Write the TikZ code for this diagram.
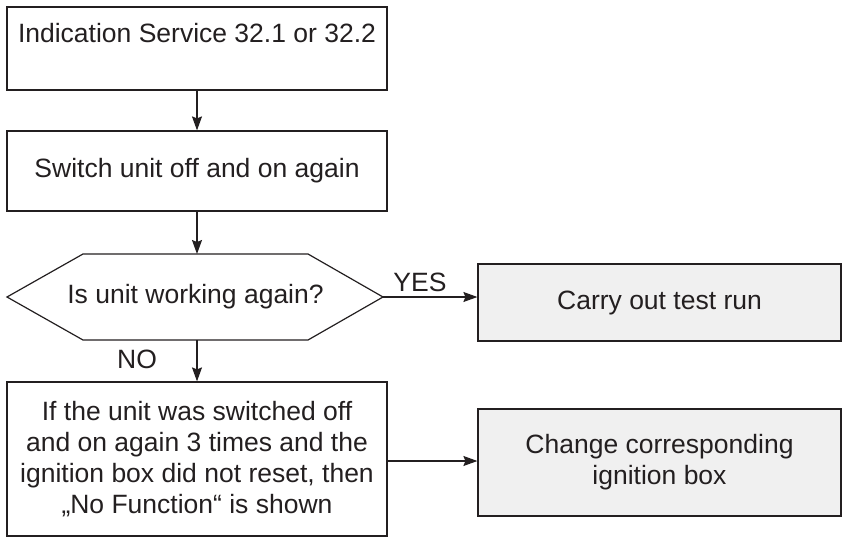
\documentclass[tikz,border=0pt]{standalone}
\usepackage{xcolor}
\usepackage{fontspec}
\setmainfont{Liberation Sans}
\usepackage{tikz}
\usetikzlibrary{calc,arrows.meta}

\definecolor{inkgrey}{HTML}{231F20}
\definecolor{boxgrey}{HTML}{F0F0F0}

\tikzset{
	chartbox/.style={draw=inkgrey, line width=1.2pt, text=inkgrey, align=center,
		minimum width=380pt, inner sep=0pt},
	greybox/.style={chartbox, fill=boxgrey, minimum width=363pt},
	flow/.style={draw=inkgrey, line width=1.2pt, -{Stealth[length=14pt,width=10pt,inset=2pt]}},
	tag/.style={text=inkgrey, inner sep=0pt}
}

\begin{document}
\begin{tikzpicture}[x=1pt, y=-1pt, font=\fontsize{26.5}{31}\selectfont]
		\useasboundingbox (0,0) rectangle (849,538);
		\node[chartbox, minimum height=83pt] (ind) at (197,48.5)
			{Indication Service 32.1 or 32.2\\\mbox{}};
		\node[chartbox, minimum height=80pt] (sw) at (197,171)
			{Switch unit off and on again};
		% decision: text node, hexagon drawn round it
		\node[tag] (dec) at (195.5,297) {Is unit working again?};
		\draw[draw=inkgrey, line width=1.2pt]
			($(dec.center)+(-112.5,-43)$) coordinate (decT) -- ++(225,0)
			-- ++(75,43) coordinate (decR) -- ++(-75,43)
			-- ++(-225,0) coordinate (decB) -- ++(-76,-43) -- cycle;
		\node[greybox, minimum height=77pt] (run) at (659.5,302.5)
			{Carry out test run};
		\node[chartbox, minimum height=154pt] (chk) at (197,459)
			{If the unit was switched off\\and on again 3 times and the\\ignition box did not reset, then\\\char"201E No Function\char"201C{} is shown};
		\node[greybox, minimum height=107pt] (chg) at (659.5,462.5)
			{Change corresponding\\ignition box};

		\draw[flow] (ind.south -| 197,0) -- (sw.north -| 197,0);
		\draw[flow] (sw.south -| 197,0) -- (decT -| 197,0);
		\draw[flow] (decB -| 197,0) -- (chk.north -| 197,0);
		\draw[flow] (decR) -- (decR -| run.west);
		\draw[flow] (chk.east |- 0,461) -- (chg.west |- 0,461);

		\node[tag] (yes) at (420,282) {YES};
		\node[tag] (no) at (137,359) {NO};
	\end{tikzpicture}
\end{document}
